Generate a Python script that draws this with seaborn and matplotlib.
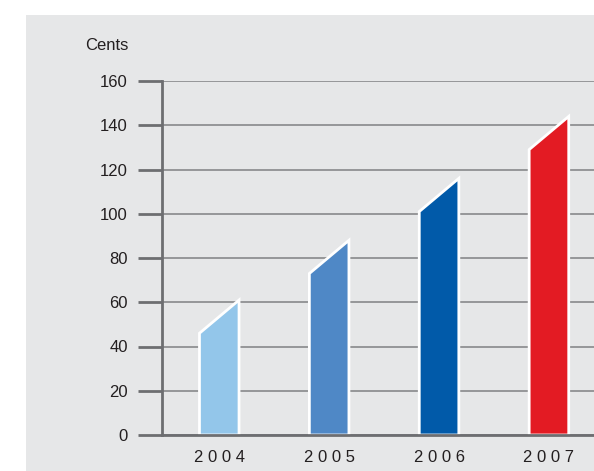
import matplotlib
matplotlib.use("Agg")
import matplotlib.pyplot as plt
from matplotlib.patches import Rectangle, Polygon
import seaborn as sns

# Data
years = ["2004", "2005", "2006", "2007"]
cents = [61, 88, 116, 144]
bar_colors = ["#93c6ea", "#4f88c6", "#015aa9", "#e31b23"]
y_ticks = [0, 20, 40, 60, 80, 100, 120, 140, 160]

# Styling
BG = "#e6e7e8"
AXIS = "#6d6e71"
GRID = "#88898b"
TEXT = "#231f20"
SLANT = 15  # drop of the left top corner, in cents
FS = 12

sns.set_theme(style="white")
plt.rcParams["font.family"] = ["Liberation Sans", "DejaVu Sans"]

W, H = 594, 471
fig = plt.figure(figsize=(W / 100, H / 100), dpi=100)
fig.patch.set_facecolor("white")
fig.patches.append(Rectangle((26 / W, 0), 1 - 26 / W, 1 - 15 / H,
                             transform=fig.transFigure, facecolor=BG,
                             edgecolor="none", zorder=-10))

ax = fig.add_axes([162 / W, 1 - 435 / H, 1 - 162 / W, (435 - 81) / H])
ax.set_facecolor("none")
ax.set_zorder(1)

sns.barplot(x=years, y=cents, hue=years, palette=bar_colors, legend=False,
            width=0.36, ax=ax, saturation=1)

# Replace the rectangles with slant-topped columns
rects = list(ax.patches)
for rect in rects:
    x0 = rect.get_x()
    w = rect.get_width()
    h = rect.get_height()
    fc = rect.get_facecolor()
    rect.remove()
    poly = Polygon([(x0, 0), (x0, h - SLANT), (x0 + w, h), (x0 + w, 0)],
                   closed=True, facecolor=fc, edgecolor="white",
                   linewidth=2.0, joinstyle="miter", zorder=3)
    ax.add_patch(poly)

ax.set_xlim(-0.521, 3.41)
ax.set_ylim(0, 160)
ax.set_yticks(y_ticks)
ax.set_yticklabels([str(v) for v in y_ticks])
ax.set_xticks(range(len(years)))
ax.set_xticklabels([" ".join(y) for y in years])

ax.yaxis.grid(True, color=GRID, linewidth=1.2)
ax.xaxis.grid(False)
ax.set_axisbelow(True)

for side in ["top", "right"]:
    ax.spines[side].set_visible(False)
for side in ["left", "bottom"]:
    ax.spines[side].set_color(AXIS)
    ax.spines[side].set_linewidth(2.0)
    ax.spines[side].set_zorder(4)

ax.tick_params(axis="y", direction="out", length=17.5, width=2.0,
               color=AXIS, pad=7, labelsize=FS, labelcolor=TEXT, left=True)
ax.tick_params(axis="x", length=0, pad=11, labelsize=FS, labelcolor=TEXT)
ax.set_xlabel("")
ax.set_ylabel("")

fig.text(128 / W, 1 - 45 / H, "Cents", ha="right", va="center",
         fontsize=FS, color=TEXT)

fig.savefig("out.png", dpi=100, facecolor="white")
